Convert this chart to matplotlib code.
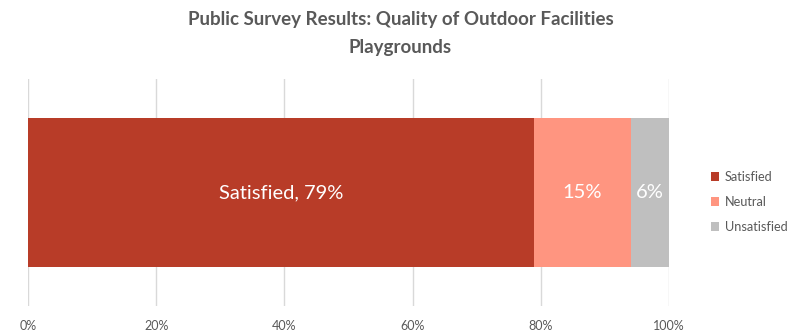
import matplotlib.pyplot as plt

categories = ["Satisfied", "Neutral", "Unsatisfied"]
values = [79, 15, 6]
labels = ["Satisfied, 79%", "15%", "6%"]
colors = ["#B83C28", "#FF9580", "#BFBFBF"]
ticks = [0, 20, 40, 60, 80, 100]

plt.rcParams['font.family'] = ['Lato', 'DejaVu Sans']
text_col = "#595959"

fig = plt.figure(figsize=(8.01, 3.32), dpi=100)
ax = fig.add_axes([28 / 801, 1 - 306 / 332, 641 / 801, 227 / 332])

left = 0
for cat, val, lab, col in zip(categories, values, labels, colors):
    ax.barh(0, val, left=left, height=0.652, color=col, label=cat, zorder=2)
    ax.text(left + val / 2, 0, lab, ha='center', va='center', color='white', fontsize=14.5)
    left += val

ax.set_xlim(0, 100)
ax.set_ylim(-0.5, 0.5)
ax.set_xticks(ticks)
ax.set_xticklabels([f"{t}%" for t in ticks], color=text_col, fontsize=9)
ax.tick_params(axis='x', length=0, pad=10)
ax.set_yticks([])
ax.grid(axis='x', color='#D9D9D9', linewidth=1, zorder=0)
for s in ax.spines.values():
    s.set_visible(False)

fig.text(0.5, 1 - 20 / 332, "Public Survey Results: Quality of Outdoor Facilities",
         ha='center', va='center', fontsize=13.5, fontweight='bold', color=text_col)
fig.text(0.5, 1 - 47 / 332, "Playgrounds",
         ha='center', va='center', fontsize=13.5, fontweight='bold', color=text_col)

leg = fig.legend(loc='center left', bbox_to_anchor=(699 / 801, 1 - 202 / 332), frameon=False,
                 fontsize=9.2, handlelength=0.7, handleheight=0.7, handletextpad=0.4,
                 labelspacing=1.0, labelcolor=text_col)

fig.savefig("out.png", dpi=100, facecolor='white')
